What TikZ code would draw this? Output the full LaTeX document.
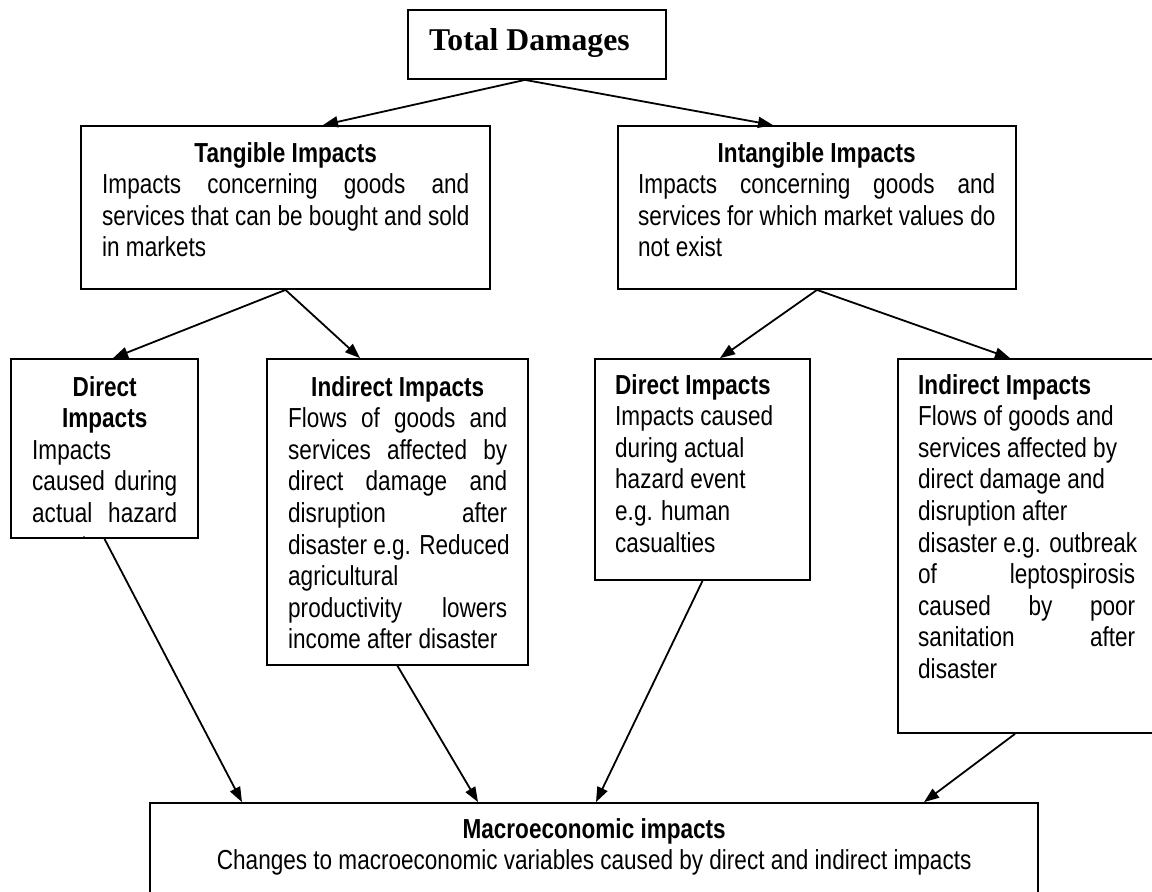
\documentclass[tikz,border=0pt]{standalone}
\usepackage{fontspec}
\setmainfont{Liberation Sans}[FakeStretch=0.82]
\newfontfamily\tdfont{Liberation Serif}
\usetikzlibrary{arrows.meta,calc}

\newcommand\JLine[1]{\hbox to\hsize{\spaceskip=\fontdimen2\font plus 1fil\relax#1}}
\newcommand\LLine[1]{\hbox to\hsize{#1\hfil}}
\newcommand\CLine[1]{\hbox to\hsize{\hfil#1\hfil}}
\newcommand\TBlock[2]{\vtop{\hsize=#1\relax\baselineskip=31.6pt\relax#2}}

\begin{document}
\begin{tikzpicture}[x=1pt,y=-1pt,
  box/.style={draw,line width=1.8pt,inner sep=0pt,rectangle},
  txt/.style={anchor=base west,inner sep=0pt},
  arr/.style={line width=1.8pt,-{Triangle[length=15pt,width=11pt]}},
  font=\fontsize{27.5}{31.6}\selectfont]
\useasboundingbox (0,0) rectangle (1152,892);
\fill[white] (0,0) rectangle (1152,892);

% boxes
\node[box,minimum width=258pt,minimum height=69pt] (tot) at (537,44.5) {};
\node[box,minimum width=409pt,minimum height=163pt] (tan) at (285.5,207.5) {};
\node[box,minimum width=398pt,minimum height=163pt] (intan) at (817,207.5) {};
\node[box,minimum width=187pt,minimum height=179pt] (dl) at (104.5,448.5) {};
\node[box,minimum width=261pt,minimum height=306pt] (il) at (397.5,512) {};
\node[box,minimum width=215pt,minimum height=221pt] (dm) at (702.5,469.5) {};
\node[box,minimum width=256pt,minimum height=374pt] (ir) at (1026,546) {};
\node[box,minimum width=888pt,minimum height=102pt] (mac) at (594,854) {};

% texts
\node[txt] (tott) at (429,50) {\tdfont\fontsize{31.7}{36}\selectfont\bfseries Total Damages};

\node[txt] (tant) at (102,162) {\TBlock{367pt}{%
  \CLine{\bfseries Tangible Impacts}%
  \JLine{Impacts concerning goods and}%
  \JLine{services that can be bought and sold}%
  \LLine{in markets}}};

\node[txt] (intant) at (638,162) {\TBlock{357pt}{%
  \CLine{\bfseries Intangible Impacts}%
  \JLine{Impacts concerning goods and}%
  \JLine{services for which market values do}%
  \LLine{not exist}}};

\begin{scope}
\clip (dl.north west) rectangle (dl.south east);
\node[txt] (dlt) at (32,396) {\TBlock{145pt}{%
  \CLine{\bfseries Direct}%
  \CLine{\bfseries Impacts}%
  \LLine{Impacts}%
  \JLine{caused during}%
  \JLine{actual hazard}%
  \JLine{event e.g.}}};
\end{scope}

\node[txt] (ilt) at (288,396) {\TBlock{219pt}{%
  \CLine{\bfseries Indirect Impacts}%
  \JLine{Flows of goods and}%
  \JLine{services affected by}%
  \JLine{direct damage and}%
  \JLine{disruption after}%
  \JLine{disaster e.g. Reduced}%
  \LLine{agricultural}%
  \JLine{productivity lowers}%
  \LLine{income after disaster}}};

\node[txt] (dmt) at (615,394) {\TBlock{180pt}{%
  \LLine{\bfseries Direct Impacts}%
  \LLine{Impacts caused}%
  \LLine{during actual}%
  \LLine{hazard event}%
  \LLine{e.g. human}%
  \LLine{casualties}}};

\node[txt] (irt) at (918,394) {\TBlock{217pt}{%
  \LLine{\bfseries Indirect Impacts}%
  \LLine{Flows of goods and}%
  \LLine{services affected by}%
  \LLine{direct damage and}%
  \LLine{disruption after}%
  \JLine{disaster e.g. outbreak}%
  \JLine{of leptospirosis}%
  \JLine{caused by poor}%
  \JLine{sanitation after}%
  \LLine{disaster}}};

\node[txt] (mact) at (150,838) {\TBlock{888pt}{%
  \CLine{\bfseries Macroeconomic impacts}%
  \CLine{Changes to macroeconomic variables caused by direct and indirect impacts}}};

% connectors
\draw[arr] ($(tot.south)+(-12,0)$) -- ($(tan.north)+(37.5,0)$);
\draw[arr] ($(tot.south)+(-12,0)$) -- ($(intan.north)+(-44,0)$);
\draw[arr] (tan.south) -- ($(dl.north)+(8.5,0)$);
\draw[arr] (tan.south) -- ($(il.north)+(-37.5,0)$);
\draw[arr] (intan.south) -- ($(dm.north)+(17.5,0)$);
\draw[arr] (intan.south) -- ($(ir.north)+(-16,0)$);
\draw[arr] (dl.south) -- ($(mac.north)+(-352,0)$);
\draw[arr] (il.south) -- ($(mac.north)+(-116,0)$);
\draw[arr] (dm.south) -- ($(mac.north)+(2,0)$);
\draw[arr] ($(ir.south)+(-11,0)$) -- ($(mac.north)+(330,0)$);
\end{tikzpicture}
\end{document}
